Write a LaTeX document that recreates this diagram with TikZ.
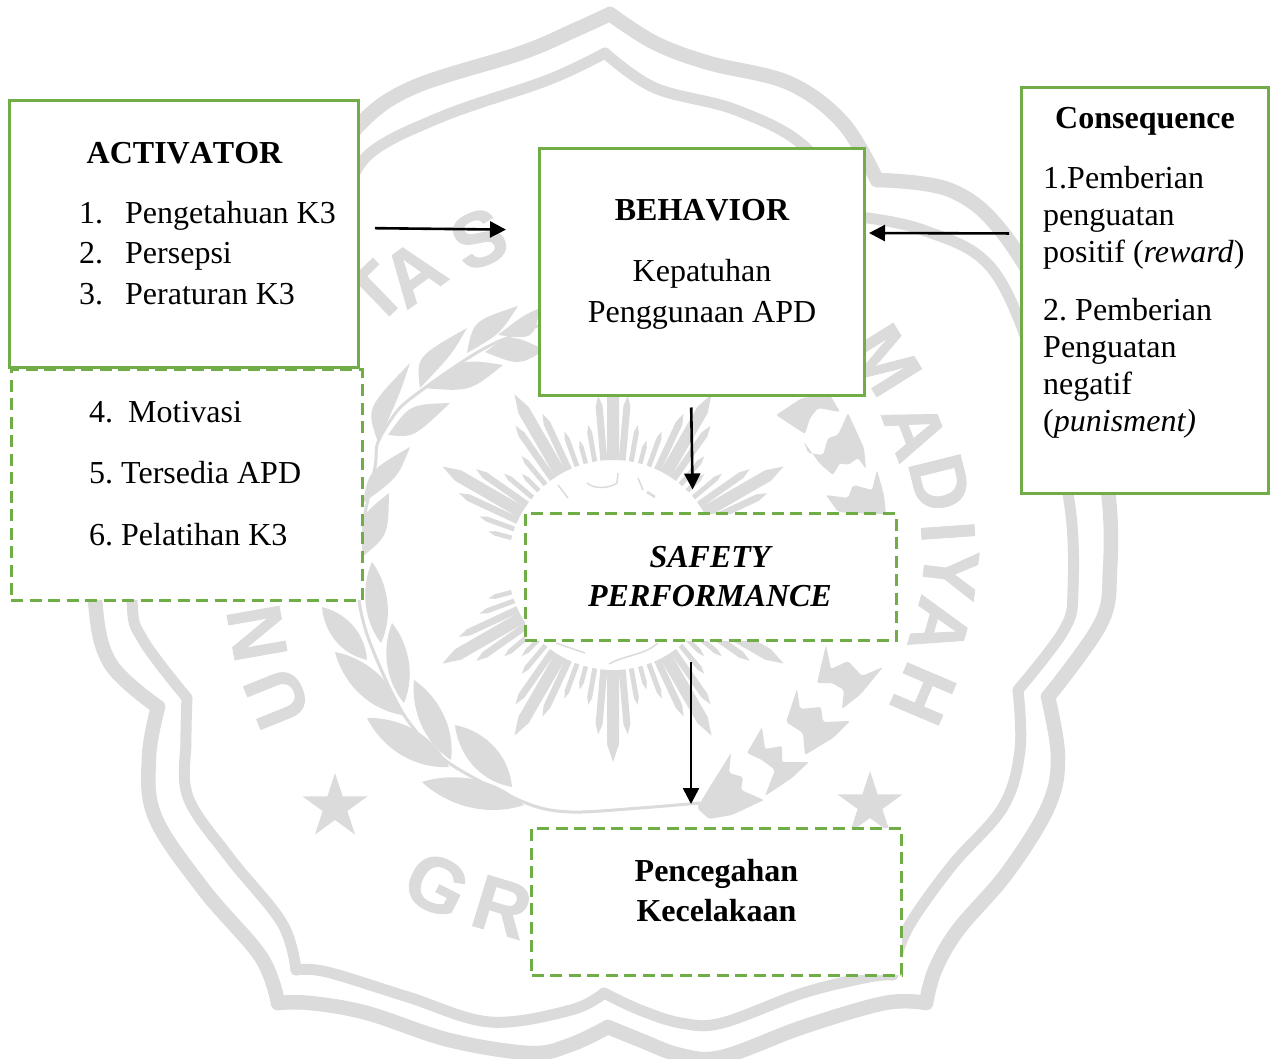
\documentclass[tikz,border=0pt]{standalone}
\usepackage{fontspec}
\setmainfont{Liberation Serif}
\newfontfamily\wmfont[BoldFeatures={FakeBold=1}]{Liberation Sans}
\usetikzlibrary{arrows.meta,calc,shapes.geometric}
\definecolor{wmgray}{HTML}{DCDBDC}
\definecolor{boxgreen}{HTML}{70AD47}
\frenchspacing
\newcommand\wmleaf[3]{\fill[wmgray] (#1) .. controls ($(#1)!.35!(#2)!#3!90:(#2)$) and ($(#1)!.75!(#2)!#3*0.7!90:(#2)$) .. (#2) .. controls ($(#1)!.75!(#2)!#3*0.7!-90:(#2)$) and ($(#1)!.35!(#2)!#3!-90:(#2)$) .. (#1) -- cycle;}
\newcommand\wmleafb[4]{\fill[wmgray] (#1) .. controls ($(#1)!.5!(#3)!1.33!(#2)$) .. (#3) .. controls ($(#1)!.5!(#3)!1.33!(#4)$) .. (#1) -- cycle;}
\newcommand\wmray[3]{\fill[wmgray,shift={(613,565)},rotate=#1] (-#3,-105) -- (#3,-105) -- (#3,{-(#2)+3*(#3)}) -- (0,-#2) -- (-#3,{-(#2)+3*(#3)}) -- cycle;}
\tikzset{
  solidbox/.style={draw=boxgreen,fill=white,line width=3pt,inner sep=0pt,outer sep=0pt},
  dashbox/.style={draw=boxgreen,fill=white,line width=3pt,dash pattern=on 12pt off 6.5pt,inner sep=0pt,outer sep=0pt},
  arrowline/.style={draw=black,line width=2.6pt,-{Triangle[length=16pt,width=16pt]}},
  txtl/.style={anchor=base west,inner sep=0pt,font=\fontsize{32}{38}\selectfont},
  txtc/.style={anchor=base,inner sep=0pt,font=\fontsize{32}{38}\selectfont},
  wmtext/.style={anchor=center,inner sep=0pt,text=wmgray,font=\wmfont\bfseries\fontsize{77}{85}\selectfont},
  band/.style={draw=wmgray,line width=#1,line cap=round,line join=round},
  wmstar/.style={star,star points=5,star point ratio=2.618,fill=wmgray,minimum size=68pt,inner sep=0pt},
  grain/.style={fill=wmgray,rounded corners=2pt}
}
\begin{document}
\begin{tikzpicture}[x=1pt,y=-1pt]
\useasboundingbox (0,0) rectangle (1280,1059);
\fill[white] (0,0) rectangle (1280,1059);
% outer band
\draw[band=14.5pt] plot[smooth,tension=.6] coordinates {(610,14) (655,43) (709,63) (789,83) (843,123) (877,180)};
\draw[band=14.5pt] plot[smooth,tension=.6] coordinates {(877,180) (950,190) (1003,233) (1060,330) (1095,430) (1109,500) (1110,570) (1101,623) (1048,697)};
\draw[band=14.5pt] plot[smooth,tension=.6] coordinates {(1048,697) (1058,757) (1048,807) (1007,873) (958,930) (935,970) (926,1003)};
\draw[band=14.5pt] plot[smooth,tension=.6] coordinates {(926,1003) (885,1003) (803,1027) (722,1057) (680,1055) (640,1040) (608,1027)};
\draw[band=14.5pt] plot[smooth,tension=.6] coordinates {(608,1027) (570,1045) (530,1053) (449,1040) (367,1013) (310,1003) (278,1003)};
\draw[band=14.5pt] plot[smooth,tension=.6] coordinates {(278,1003) (261,957) (204,890) (155,817) (149,757) (158,707)};
\draw[band=14.5pt] plot[smooth,tension=.6] coordinates {(158,707) (110,663) (95,600) (95,500) (130,330) (197,233) (250,190) (323,177)};
\draw[band=14.5pt] plot[smooth,tension=.6] coordinates {(323,177) (361,123) (414,87) (521,53) (575,30) (610,14)};
% inner band
\draw[band=11pt] plot[smooth,tension=.6] coordinates {(605,53) (655,88) (736,110) (805,147) (852,216)};
\draw[band=11pt] plot[smooth,tension=.6] coordinates {(852,216) (923,230) (993,270) (1040,380) (1069,500) (1073,590) (1064,630) (1018,690)};
\draw[band=11pt] plot[smooth,tension=.6] coordinates {(1018,690) (1020,750) (1003,807) (954,863) (917,913) (901,943) (893,975)};
\draw[band=11pt] plot[smooth,tension=.6] coordinates {(893,975) (869,977) (803,993) (722,1023) (681,1023) (640,1010) (604,993)};
\draw[band=11pt] plot[smooth,tension=.6] coordinates {(604,993) (571,1010) (490,1022) (408,997) (327,972) (296,970)};
\draw[band=11pt] plot[smooth,tension=.6] coordinates {(296,970) (282,923) (229,857) (188,797) (186,740) (187,698)};
\draw[band=11pt] plot[smooth,tension=.6] coordinates {(187,698) (143,640) (132,600) (135,480) (170,360) (240,260) (340,215)};
\draw[band=11pt] plot[smooth,tension=.6] coordinates {(340,215) (366,157) (441,117) (548,80) (605,53)};
% sun
\foreach \b in {0,180}{
  \foreach \m in {-60,-30,0,30,60}{\wmray{\b+\m}{197}{6}}
  \foreach \m in {0,30}{
    \foreach \d/\r/\h in {5/170/3.5,10/142/2.5,15/129/2.3,20/142/2.5,25/167/3.5}{
      \wmray{\b+\m+\d}{\r}{\h}
      \wmray{\b-\m-\d}{\r}{\h}
    }
  }
  \foreach \d/\r/\h in {65/170/3.5,70/142/2.5,75/129/2.3}{
    \wmray{\b+\d}{\r}{\h}
    \wmray{\b-\d}{\r}{\h}
  }
}
\draw[wmgray,line width=1.5pt] (587,483) .. controls (595,490) and (610,488) .. (617,483) -- (618,473);
\draw[wmgray,line width=1.5pt] (558,485) -- (568,498);
\draw[wmgray,line width=1.5pt] (638,478) -- (643,490);
\draw[wmgray,line width=2.5pt] (647,492) -- (655,497);
\draw[wmgray,line width=1.5pt] (609,664) .. controls (625,655) and (645,655) .. (658,643);
\draw[wmgray,line width=1.5pt] (556,643) -- (585,653);
% wreath
\draw[wmgray,line width=3pt] plot[smooth] coordinates {(700,803) (640,808) (571,812) (526,803) (449,763) (404,715) (369,640) (358,590) (362,530) (375,467) (378,442) (398,410) (422,390) (465,360) (495,343) (540,325)};
\wmleaf{524,805}{422,782}{22pt}
\wmleaf{449,767}{367,718}{22pt}
\wmleaf{402,715}{335,652}{21pt}
\wmleaf{367,660}{322,607}{18pt}
\wmleaf{512,787}{455,725}{22pt}
\wmleaf{451,760}{414,680}{19pt}
\wmleaf{404,703}{392,623}{17pt}
\wmleaf{381,643}{372,562}{17pt}
\wmleafb{362,557}{362,520}{389,493}{385,533}
\wmleafb{363,503}{373,472}{410,447}{395,477}
\wmleafb{378,442}{373,407}{410,363}{398,397}
\wmleafb{388,435}{412,408}{450,403}{415,433}
\wmleafb{420,388}{423,357}{467,328}{450,355}
\wmleafb{423,388}{462,363}{503,365}{468,388}
\wmleafb{467,353}{478,323}{518,306}{498,333}
\wmleafb{485,352}{512,338}{545,350}{518,362}
\wmleafb{498,335}{522,317}{540,308}{530,335}
% wheat
\fill[grain] (697,808) -- (711,785) -- (731,753) -- (729,773) -- (743,777) -- (741,790) -- (764,800) -- (732,815) -- (709,819) -- cycle;
\fill[grain] (747,753) -- (762,727) -- (765,749) -- (782,746) -- (782,762) -- (809,762) -- (792,778) -- (765,796) -- (775,770) -- (762,760) -- cycle;
\fill[grain] (786,722) -- (797,689) -- (800,709) -- (821,707) -- (823,722) -- (850,721) -- (833,738) -- (805,755) -- (803,733) -- cycle;
\fill[grain] (817,683) -- (826,645) -- (831,669) -- (848,661) -- (862,676) -- (883,667) -- (861,694) -- (842,709) -- (844,690) -- (832,683) -- cycle;
\fill[grain] (776,415) -- (802,398) -- (830,395) -- (840,412) -- (818,408) -- (810,418) -- (805,434) -- cycle;
\fill[grain] (804,442) -- (808,453) -- (823,455) -- (828,438) -- (838,435) -- (848,413) -- (864,448) -- (866,469) -- (858,458) -- (848,465) -- (840,463) -- (833,475) -- (820,464) -- cycle;
\fill[grain] (826,495) -- (848,498) -- (853,485) -- (872,490) -- (877,470) -- (884,495) -- (886,515) -- (838,512) -- cycle;
% stars and letters
\node[wmstar] (starleft) at (335,807) {};
\node[wmstar] (starright) at (870,805) {};
\node[wmtext,rotate=100] (wmN) at (257,633) {N};
\node[wmtext,rotate=112] (wmU) at (277,698) {U};
\node[wmtext,rotate=44] (wmT) at (375,293) {T};
\node[wmtext,rotate=36] (wmA) at (413,273) {A};
\node[wmtext,rotate=24] (wmS) at (479,239) {S};
\node[wmtext,rotate=-58] (wmM) at (885,360) {M};
\node[wmtext,rotate=-69] (wmAb) at (915,430) {A};
\node[wmtext,rotate=-76] (wmD) at (940,483) {D};
\node[wmtext,rotate=-86] (wmI) at (948,532) {I};
\node[wmtext,rotate=-97] (wmY) at (950,574) {Y};
\node[wmtext,rotate=-106] (wmAc) at (940,627) {A};
\node[wmtext,rotate=-113] (wmH) at (923,694) {H};
\node[wmtext,rotate=-27] (wmG) at (437,885) {G};
\node[wmtext,rotate=-17] (wmR) at (502,907) {R};
% boxes
\node[dashbox,minimum width=351pt,minimum height=231pt] (extra) at (186.5,484.5) {};
\node[solidbox,minimum width=349pt,minimum height=267pt] (activator) at (184,234) {};
\node[solidbox,minimum width=325pt,minimum height=247pt] (behavior) at (702,272) {};
\node[solidbox,minimum width=247pt,minimum height=406pt] (consequence) at (1145,290.5) {};
\node[dashbox,minimum width=371pt,minimum height=127pt] (safety) at (710.5,577) {};
\node[dashbox,minimum width=370pt,minimum height=147pt] (prevent) at (716.5,901.5) {};
% arrows
\draw[arrowline,shorten <=16.5pt,shorten >=33.5pt] ([yshift=6pt]activator.east) -- ([yshift=42pt]behavior.west);
\draw[arrowline,shorten <=12.5pt,shorten >=4.5pt] ([yshift=57pt]consequence.west) -- ([yshift=39pt]behavior.east);
\draw[arrowline,shorten <=12pt,shorten >=24pt] ([xshift=-11pt]behavior.south) -- ([xshift=-17.5pt]safety.north);
\draw[arrowline,shorten <=21pt,shorten >=24pt] ([xshift=-19.5pt]safety.south) -- ([xshift=-25.5pt]prevent.north);
% text
\node[txtc,font=\bfseries\addfontfeatures{Kerning=Off}\fontsize{32}{38}\selectfont] (t1) at (184.5,164) {ACTIVATOR};
\node[txtl] (t2a) at (79,224) {1.};
\node[txtl] (t2b) at (125,224) {Pengetahuan K3};
\node[txtl] (t3a) at (79,264) {2.};
\node[txtl] (t3b) at (125,264) {Persepsi};
\node[txtl] (t4a) at (79,305) {3.};
\node[txtl] (t4b) at (125,305) {Peraturan K3};
\node[txtl] (t5a) at (89,422) {4.};
\node[txtl] (t5b) at (128,422) {Motivasi};
\node[txtl] (t6) at (89,483) {5. Tersedia APD};
\node[txtl] (t7) at (89,545) {6. Pelatihan K3};
\node[txtc,font=\bfseries\addfontfeatures{Kerning=Off}\fontsize{32}{38}\selectfont] (b1) at (702,221) {BEHAVIOR};
\node[txtc] (b2) at (702,282) {Kepatuhan};
\node[txtc] (b3) at (702,323) {Penggunaan APD};
\node[txtc,font=\bfseries\itshape\fontsize{32}{38}\selectfont] (s1) at (710,567) {SAFETY};
\node[txtc,font=\bfseries\itshape\fontsize{32}{38}\selectfont] (s2) at (710,606) {PERFORMANCE};
\node[txtc,font=\bfseries\fontsize{32}{38}\selectfont] (p1) at (716.5,881) {Pencegahan};
\node[txtc,font=\bfseries\fontsize{32}{38}\selectfont] (p2) at (716.5,921) {Kecelakaan};
\node[txtc,font=\bfseries\fontsize{32}{38}\selectfont] (c0) at (1145,129) {Consequence};
\node[txtl] (c1) at (1043,189) {1.Pemberian};
\node[txtl] (c2) at (1043,226) {penguatan};
\node[txtl] (c3) at (1043,263) {positif (\textit{reward})};
\node[txtl] (c4) at (1043,320) {2. Pemberian};
\node[txtl] (c5) at (1043,357) {Penguatan};
\node[txtl] (c6) at (1043,394) {negatif};
\node[txtl] (c7) at (1043,431) {(\textit{punisment)}};
\end{tikzpicture}
\end{document}
